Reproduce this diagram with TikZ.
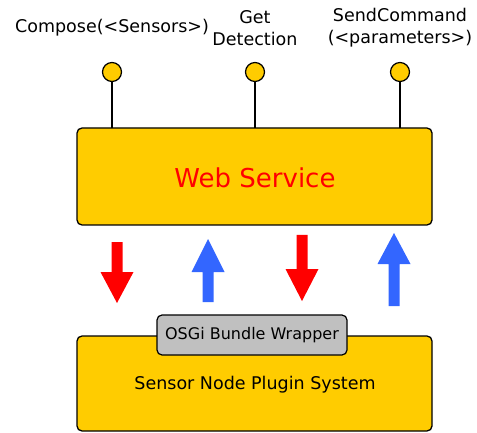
\documentclass[tikz,border=0pt]{standalone}
\usepackage{fontspec}
\setmainfont{DejaVu Sans}
\definecolor{ygold}{HTML}{FFCC00}
\definecolor{agray}{HTML}{C0C0C0}
\definecolor{ablue}{HTML}{3366FF}
\definecolor{ared}{HTML}{FF0000}
\begin{document}
\begin{tikzpicture}[x=1pt,y=-1pt,
  box/.style={draw=black,line width=1.3pt,fill=ygold,rounded corners=5pt},
  pin/.style={circle,draw=black,line width=1.2pt,fill=ygold,minimum size=19pt,inner sep=0pt},
  lbl/.style={font=\fontsize{17.5}{22}\selectfont,align=center,inner sep=0pt},
  stem/.style={line width=1.2pt},
  redarrow/.style={fill=ared,draw=none},
  bluearrow/.style={fill=ablue,draw=none}]
\useasboundingbox (0,0) rectangle (477,433);
% boxes
\draw[box] (77,128) rectangle (432,225);
\node (ws) at (254.5,176.5) [minimum width=355pt,minimum height=97pt,inner sep=0pt] {};
\node[text=ared,font=\fontsize{26}{30}\selectfont] (wstext) at (255,178) {Web Service};
\draw[box] (77,336) rectangle (432,431);
\node (sn) at (254.5,383.5) [minimum width=355pt,minimum height=95pt,inner sep=0pt] {};
\node[font=\fontsize{17.5}{20}\selectfont] (sntext) at (255,385) {Sensor Node Plugin System};
\node[draw=black,line width=1.2pt,fill=agray,rounded corners=5pt,minimum width=190pt,minimum height=40pt,inner sep=0pt,font=\fontsize{16}{19}\selectfont] (osgi) at (252,335) {OSGi Bundle Wrapper};
% pins
\node[pin] (p1) at (112,72) {};
\node[pin] (p2) at (255,72) {};
\node[pin] (p3) at (400,72) {};
\draw[stem] (p1) -- (p1 |- ws.north);
\draw[stem] (p2) -- (p2 |- ws.north);
\draw[stem] (p3) -- (p3 |- ws.north);
% labels
\node[lbl] (l1) at (112,28) {Compose(<Sensors>)};
\node[lbl] (l2) at (255,28) {Get\\Detection};
\node[lbl] (l3) at (400,28) {SendCommand\\(<parameters>)};
% arrows
\fill[redarrow] (111.5,242) -- (122.5,242) -- (122.5,272) -- (133.5,272) -- (117,303) -- (100.5,272) -- (111.5,272) -- cycle;
\fill[bluearrow] (202.5,302) -- (213.5,302) -- (213.5,272) -- (224.5,272) -- (208,239) -- (191.5,272) -- (202.5,272) -- cycle;
\fill[redarrow] (296.5,235) -- (307.5,235) -- (307.5,269) -- (318.5,269) -- (302,301) -- (285.5,269) -- (296.5,269) -- cycle;
\fill[bluearrow] (388.5,306) -- (399.5,306) -- (399.5,264) -- (410.5,264) -- (394,233) -- (377.5,264) -- (388.5,264) -- cycle;
\end{tikzpicture}
\end{document}
